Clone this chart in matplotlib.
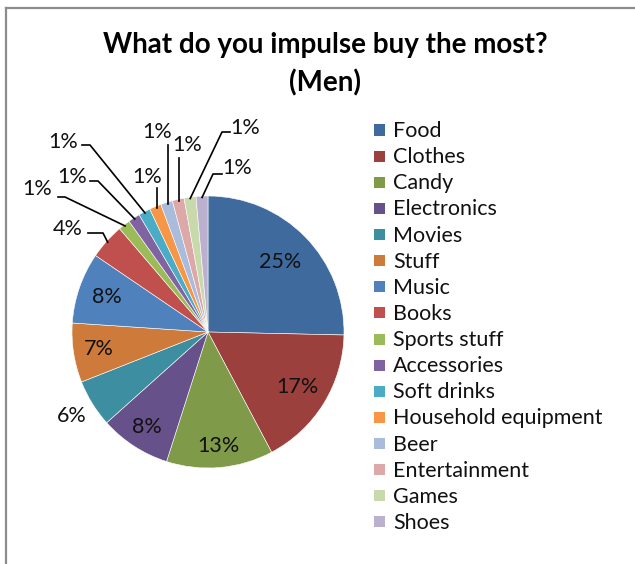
import matplotlib
matplotlib.use("Agg")
import matplotlib.pyplot as plt
import numpy as np
from matplotlib.lines import Line2D
from matplotlib.patches import Rectangle

# survey answers (men), counts per category
categories = ["Food", "Clothes", "Candy", "Electronics", "Movies", "Stuff",
              "Music", "Books", "Sports stuff", "Accessories", "Soft drinks",
              "Household equipment", "Beer", "Entertainment", "Games", "Shoes"]
counts = [18, 12, 9, 6, 4, 5, 6, 3, 1, 1, 1, 1, 1, 1, 1, 1]

colors = ["#3F6A9E", "#9C403E", "#7F9A48", "#67518A", "#3D8EA0", "#CD7A3A",
          "#4F81BD", "#C0504D", "#9BBB59", "#8064A2", "#4BACC6", "#F79646",
          "#A9BCDB", "#DCA9A8", "#C8DAAB", "#BBB0CE"]

plt.rcParams["font.family"] = ["Lato", "DejaVu Sans"]

W, H = 635, 564
CX, CY, R = 208, 332, 136   # pie centre and radius in pixels

fig = plt.figure(figsize=(W / 100, H / 100), dpi=100)
ax = fig.add_axes([0, 0, 1, 1])

wedges, _ = ax.pie(counts, colors=colors, startangle=90, counterclock=False,
                   radius=1.0, center=(0, 0),
                   wedgeprops=dict(edgecolor="white", linewidth=0.4))
ax.set_xlim(-CX / R, (W - CX) / R)
ax.set_ylim(-(H - CY) / R, CY / R)
ax.set_aspect("auto")
ax.axis("off")

total = sum(counts)
pct = ["%.0f%%" % (100.0 * c / total) for c in counts]


def px(x, y):
    # pixel position -> pie units
    return (x - CX) / R, (CY - y) / R


def edge(w, r=1.0):
    a = np.deg2rad((w.theta1 + w.theta2) / 2)
    return r * np.cos(a), r * np.sin(a)


# labels drawn inside the slice, radial distance per slice
inside_r = {"Food": 0.74, "Clothes": 0.77, "Candy": 0.84, "Electronics": 0.83,
            "Stuff": 0.81, "Music": 0.79}
for name, r in inside_r.items():
    i = categories.index(name)
    x, y = edge(wedges[i], r)
    ax.text(x, y, pct[i], ha="center", va="center", fontsize=15.5, color="#111111")

# Movies sits just outside, no leader
i = categories.index("Movies")
x, y = edge(wedges[i], 1.18)
ax.text(x, y, pct[i], ha="center", va="center", fontsize=15.5, color="#111111")

# outside labels with leader lines: label centre, then the leader elbow points (pixels)
leaders = {
    "Books":               ((68, 229), [(88, 233), (103, 233)]),
    "Sports stuff":        ((37, 189), [(58, 197), (65, 197)]),
    "Accessories":         ((72, 177), [(90, 181), (98, 181)]),
    "Soft drinks":         ((63, 142), [(82, 145), (90, 145)]),
    "Household equipment": ((147, 177), [(157, 188)]),
    "Beer":                ((157, 132), [(168, 145)]),
    "Entertainment":       ((187, 145), [(179, 158)]),
    "Games":               ((245, 128), [(230, 132), (222, 132)]),
    "Shoes":               ((237, 168), [(222, 174), (213, 174)]),
}
for name, (lab, pts) in leaders.items():
    i = categories.index(name)
    lx, ly = px(*lab)
    ax.text(lx, ly, pct[i], ha="center", va="center", fontsize=15.5, color="#111111")
    path = [px(*p) for p in pts]
    ex, ey = edge(wedges[i], 0.99)
    if len(pts) == 1:
        # straight drop onto the slice
        path.append((path[0][0], ey))
    else:
        path.append((ex, ey))
    xs, ys = zip(*path)
    ax.plot(xs, ys, color="black", lw=1.2, clip_on=False)

# title
fig.text(325 / W, 1 - 45 / H, "What do you impulse buy the most?", ha="center",
         va="center", fontsize=20, fontweight="bold")
fig.text(325 / W, 1 - 83 / H, "(Men)", ha="center", va="center",
         fontsize=20, fontweight="bold")

# legend, one row per category
for i, name in enumerate(categories):
    yc = 130 + 26.13 * i
    fig.add_artist(Rectangle((374 / W, 1 - (yc + 5.5) / H), 11 / W, 11 / H,
                             transform=fig.transFigure, facecolor=colors[i],
                             edgecolor="none"))
    fig.text(393 / W, 1 - (yc + 1) / H, name, ha="left", va="center",
             fontsize=15.5, color="#111111")

# chart area border (top and left edges)
fig.add_artist(Line2D([5.5 / W, 1], [1 - 7.5 / H, 1 - 7.5 / H],
                      transform=fig.transFigure, color="#8c8c8c", lw=1.6))
fig.add_artist(Line2D([5.5 / W, 5.5 / W], [0, 1 - 7.5 / H],
                      transform=fig.transFigure, color="#8c8c8c", lw=1.6))

fig.savefig("out.png", dpi=100, facecolor="white")
